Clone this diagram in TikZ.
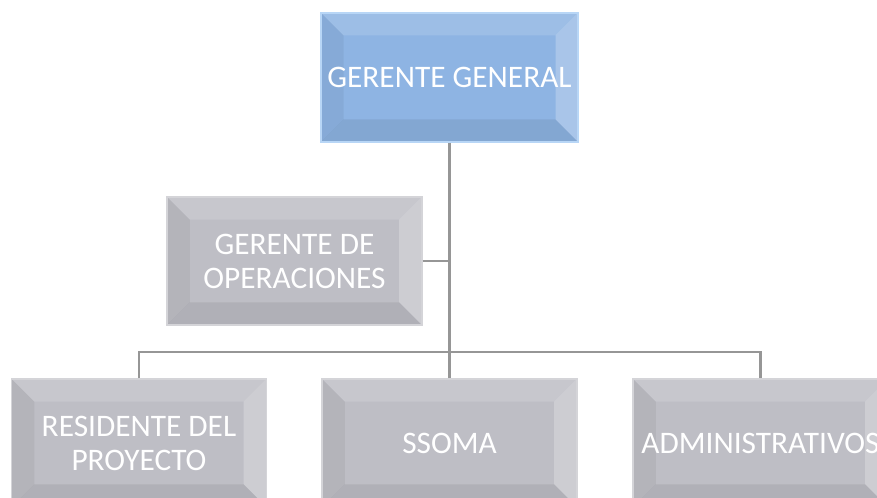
\documentclass[tikz,border=0pt]{standalone}
\usepackage{fontspec}
\setmainfont{Carlito}
\usepackage{tikz}
\usetikzlibrary{positioning}
\definecolor{bluefill}{RGB}{142,180,227}
\definecolor{blueedge}{RGB}{184,214,246}
\definecolor{grayfill}{RGB}{190,190,197}
\definecolor{grayedge}{RGB}{212,212,216}
\definecolor{linegray}{RGB}{150,150,150}
\tikzstyle{bevel} = [path picture={
    \fill[white, opacity=0.14] (path picture bounding box.north west) -- (path picture bounding box.north east)
      -- ([shift={(-17pt,-17pt)}]path picture bounding box.north east) -- ([shift={(17pt,-17pt)}]path picture bounding box.north west) -- cycle;
    \fill[white, opacity=0.24] (path picture bounding box.north east) -- (path picture bounding box.south east)
      -- ([shift={(-17pt,17pt)}]path picture bounding box.south east) -- ([shift={(-17pt,-17pt)}]path picture bounding box.north east) -- cycle;
    \fill[black, opacity=0.05] (path picture bounding box.north west) -- (path picture bounding box.south west)
      -- ([shift={(17pt,17pt)}]path picture bounding box.south west) -- ([shift={(17pt,-17pt)}]path picture bounding box.north west) -- cycle;
    \fill[black, opacity=0.07] (path picture bounding box.south west) -- (path picture bounding box.south east)
      -- ([shift={(-17pt,17pt)}]path picture bounding box.south east) -- ([shift={(17pt,17pt)}]path picture bounding box.south west) -- cycle;
  }]
\tikzstyle{gbox} = [rectangle, bevel, fill=grayfill, draw=grayedge, line width=1.2pt, inner sep=0pt,
  minimum width=191pt, minimum height=96pt, align=center, text=white,
  font=\fontsize{23.5}{25.5}\selectfont]
\tikzstyle{bbox} = [gbox, fill=bluefill, draw=blueedge, minimum width=193pt, minimum height=97pt]
\tikzstyle{line} = [draw=linegray, line width=2.2pt]

\begin{document}
\begin{tikzpicture}[x=0.75pt, y=0.75pt]
  \useasboundingbox (0, 0) rectangle (877, 498);
  \clip (0, 0) rectangle (877, 498);
  \node [bbox] (gg) at (449.5, 420.5) {GERENTE GENERAL};
  \node [gbox] (op) at (294.5, 237) {GERENTE DE\\OPERACIONES};
  \node [gbox] (res) at (139, 55) {RESIDENTE DEL\\PROYECTO};
  \node [gbox] (ssoma) at (449.5, 55) {SSOMA};
  \node [gbox] (adm) at (760.5, 55) {ADMINISTRATIVOS};
  \coordinate (bar) at (449.5, 146);

  \path [line] (gg.south) -- (bar);
  \path [line] (op.east) -- (op.east -| gg.south);
  \path [line] (res.north) |- (bar) -| (adm.north);
  \path [line] (ssoma.north) -- (bar);
\end{tikzpicture}
\end{document}
